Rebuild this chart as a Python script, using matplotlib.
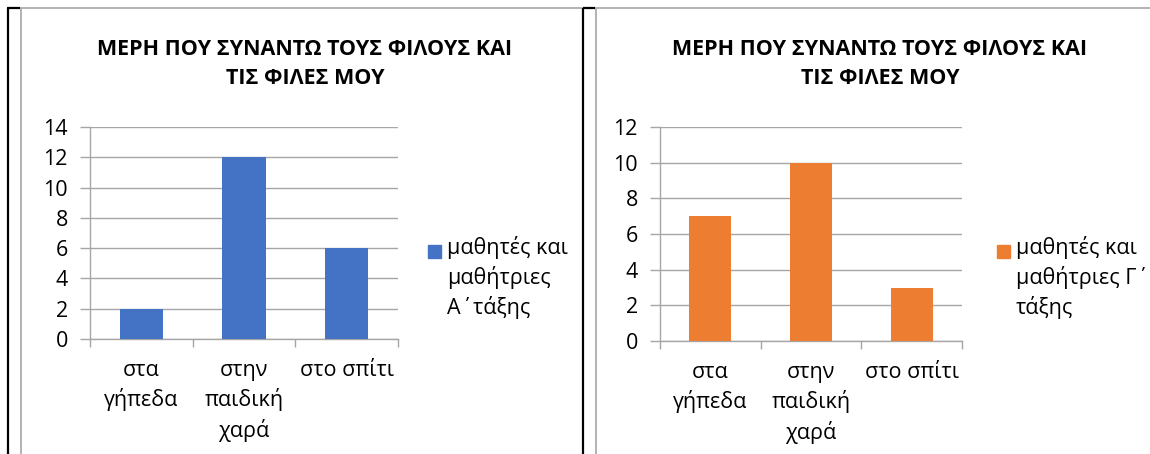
import matplotlib
matplotlib.use('Agg')
import matplotlib.pyplot as plt
from matplotlib.lines import Line2D
from matplotlib.patches import Rectangle

plt.rcParams['font.family'] = ['Open Sans', 'DejaVu Sans']

W, H = 1150, 454

title = 'ΜΕΡΗ ΠΟΥ ΣΥΝΑΝΤΩ ΤΟΥΣ ΦΙΛΟΥΣ ΚΑΙ\nΤΙΣ ΦΙΛΕΣ ΜΟΥ'
categories = ['στα\nγήπεδα', 'στην\nπαιδική\nχαρά', 'στο σπίτι']

values_a = [2, 12, 6]
label_a = 'μαθητές και\nμαθήτριες\nΑ΄τάξης'
yticks_a = [0, 2, 4, 6, 8, 10, 12, 14]

values_c = [7, 10, 3]
label_c = 'μαθητές και\nμαθήτριες Γ΄\nτάξης'
yticks_c = [0, 2, 4, 6, 8, 10, 12]

BLUE = '#4472C4'
ORANGE = '#ED7D31'
GRID = '#A6A6A6'


def fx(x):
    return x / W


def fy(y):
    return 1 - y / H


def fig_line(fig, xs, ys, color, lw):
    fig.add_artist(Line2D([fx(x) for x in xs], [fy(y) for y in ys],
                          transform=fig.transFigure, color=color, lw=lw,
                          solid_capstyle='butt'))


def draw_chart(fig, rect, values, yticks, color, label, title_x, legend_x):
    ax = fig.add_axes([fx(rect[0]), fy(rect[1] + rect[3]),
                       rect[2] / W, rect[3] / H])
    x = list(range(len(categories)))
    ax.bar(x, values, width=0.42, color=color, zorder=3)
    ax.set_xlim(-0.5, len(categories) - 0.5)
    ax.set_ylim(yticks[0], yticks[-1])
    ax.set_yticks(yticks)
    ax.set_xticks(x)
    ax.set_xticklabels(categories, fontsize=15.5, linespacing=1.42)
    ax.set_xticks([i - 0.5 for i in range(len(categories) + 1)], minor=True)
    ax.tick_params(axis='x', which='major', length=0, pad=15)
    ax.tick_params(axis='x', which='minor', length=6, color=GRID, width=1)
    ax.tick_params(axis='y', length=7, color=GRID, width=1,
                   labelsize=15.5, pad=9)
    ax.yaxis.grid(True, color=GRID, lw=1)
    ax.set_axisbelow(True)
    for side in ['top', 'right']:
        ax.spines[side].set_visible(False)
    for side in ['left', 'bottom']:
        ax.spines[side].set_color(GRID)
        ax.spines[side].set_linewidth(1)

    fig.text(fx(title_x), fy(64), title, ha='center', va='center',
             fontsize=15.5, fontweight='bold', linespacing=1.55)

    fig.add_artist(Rectangle((fx(legend_x), fy(258)), 13 / W, 13 / H,
                             transform=fig.transFigure, color=color))
    fig.text(fx(legend_x + 19), fy(236), label, ha='left', va='top',
             fontsize=15.5, linespacing=1.4)
    return ax


fig = plt.figure(figsize=(W / 100, H / 100), dpi=100)

# page / table borders
fig_line(fig, [8, 8], [8, H], 'black', 1.6)
fig_line(fig, [7, 20], [8, 8], 'black', 1.6)
fig_line(fig, [20.5, 20.5], [8, H], GRID, 1.2)
fig_line(fig, [20, W], [8, 8], GRID, 1.2)
fig_line(fig, [583, 583], [8, H], 'black', 1.6)
fig_line(fig, [583, 595], [8, 8], 'black', 1.6)
fig_line(fig, [595.5, 595.5], [8, H], GRID, 1.2)

draw_chart(fig, (90, 127, 308, 212), values_a, yticks_a, BLUE, label_a,
           305, 428)
draw_chart(fig, (660, 127, 302, 214), values_c, yticks_c, ORANGE, label_c,
           880, 997)

fig.savefig('out.png', dpi=100)
